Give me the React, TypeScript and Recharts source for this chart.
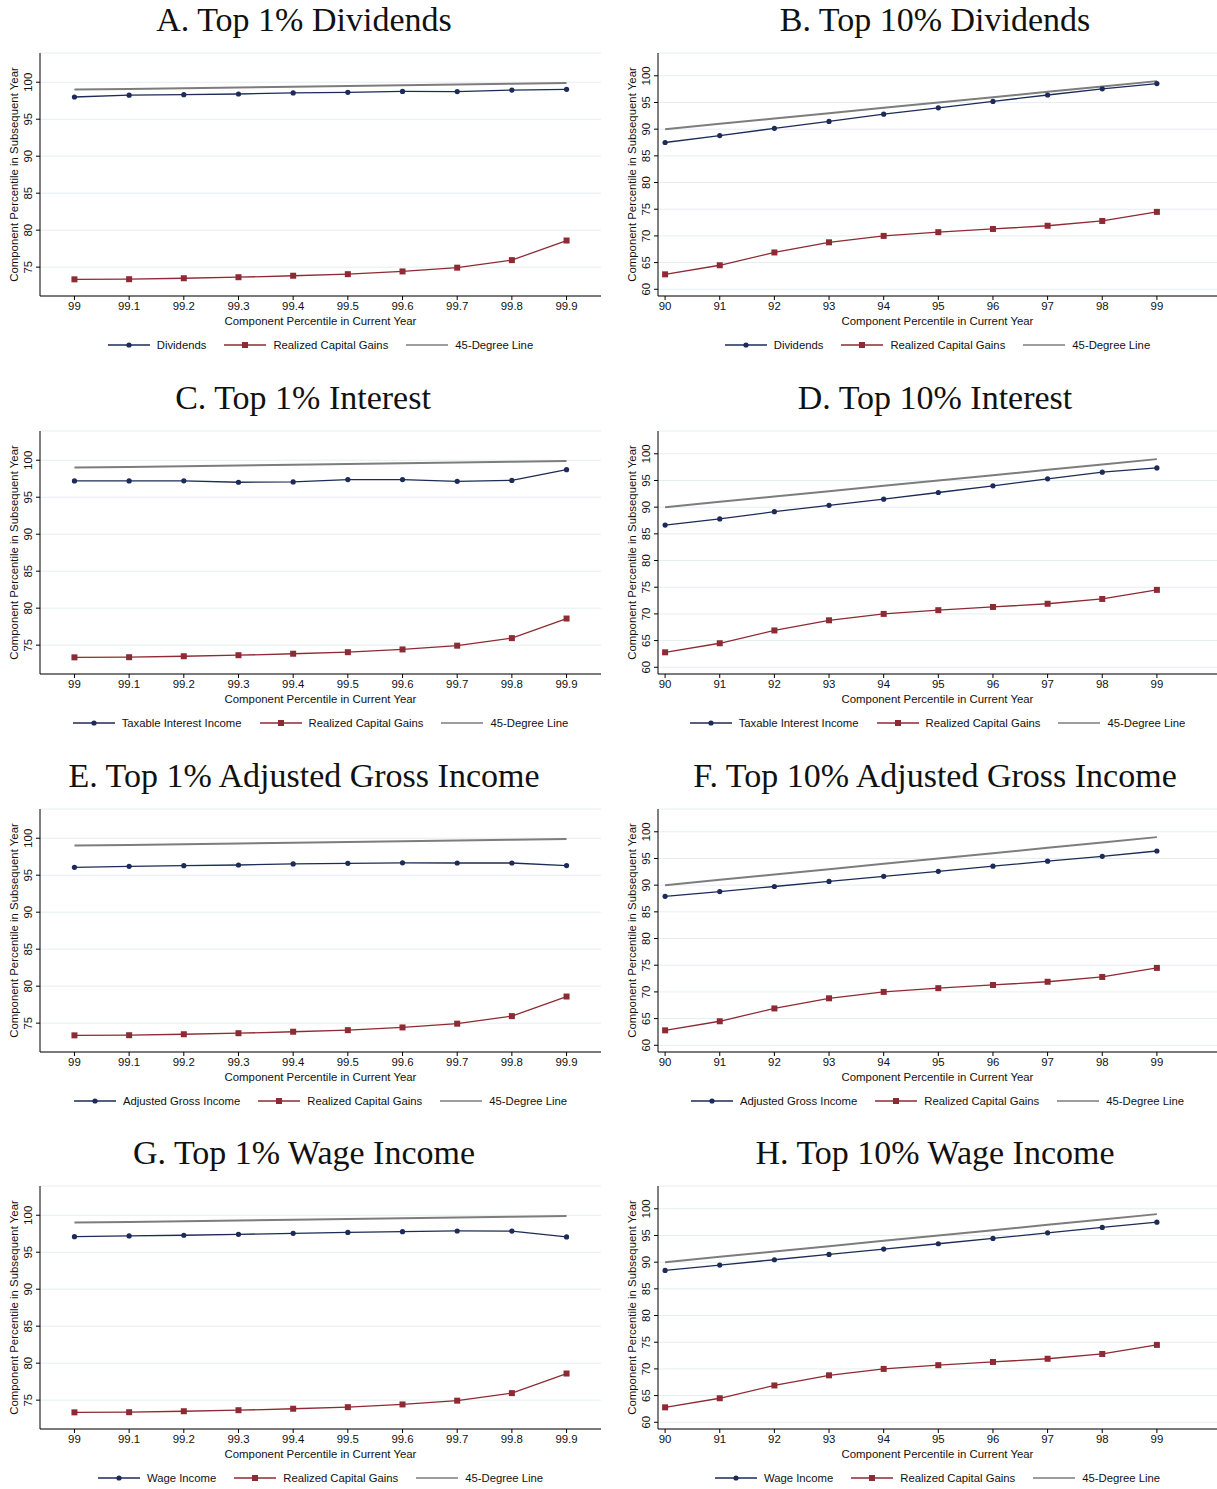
import React from "react";
import { LineChart, Line, XAxis, YAxis, CartesianGrid } from "recharts";

// x positions (component percentile in current year)
const top1X = [99, 99.1, 99.2, 99.3, 99.4, 99.5, 99.6, 99.7, 99.8, 99.9];
const top10X = [90, 91, 92, 93, 94, 95, 96, 97, 98, 99];

const top1YTicks = [75, 80, 85, 90, 95, 100];
const top10YTicks = [60, 65, 70, 75, 80, 85, 90, 95, 100];

// realized capital gains (same in every panel)
const gainsTop1 = [73.35, 73.37, 73.5, 73.64, 73.84, 74.05, 74.42, 74.93, 75.95, 78.6];
const gainsTop10 = [62.8, 64.5, 66.9, 68.8, 70.0, 70.7, 71.3, 71.9, 72.8, 74.5];

// component series
const dividendsTop1 = [98.0, 98.25, 98.32, 98.41, 98.55, 98.64, 98.76, 98.74, 98.94, 99.04];
const dividendsTop10 = [87.5, 88.8, 90.15, 91.45, 92.8, 94.0, 95.2, 96.4, 97.55, 98.55];
const interestTop1 = [97.2, 97.2, 97.22, 97.02, 97.06, 97.38, 97.38, 97.15, 97.27, 98.72];
const interestTop10 = [86.65, 87.8, 89.15, 90.35, 91.5, 92.75, 94.0, 95.3, 96.55, 97.35];
const agiTop1 = [96.07, 96.2, 96.29, 96.38, 96.52, 96.6, 96.68, 96.65, 96.65, 96.3];
const agiTop10 = [87.9, 88.8, 89.75, 90.7, 91.65, 92.6, 93.55, 94.5, 95.4, 96.4];
const wageTop1 = [97.1, 97.2, 97.29, 97.42, 97.55, 97.68, 97.78, 97.87, 97.85, 97.07];
const wageTop10 = [88.45, 89.45, 90.45, 91.45, 92.45, 93.45, 94.45, 95.5, 96.5, 97.5];

const NAVY = "#1c2b57";
const MAROON = "#8e2a33";
const GRAY = "#7d7d7d";
const GRID = "#e6eef0";
const SANS = "'Liberation Sans', Arial, sans-serif";
const SERIF = "'Liberation Serif', 'Times New Roman', serif";
const FS = 11.4;

type PanelProps = {
  left: number;
  top: number;
  title: string;
  titleCenter: number;
  name: string;
  values: number[];
  wide: boolean; // top 10% panels
};

const YTick = (props: any) => {
  const { x, y, payload } = props;
  const bx = x - 2;
  return (
    <text
      x={bx}
      y={y}
      transform={`rotate(-90 ${bx} ${y})`}
      textAnchor="middle"
      fontSize={FS}
      fontFamily={SANS}
      fill="#111"
    >
      {payload.value}
    </text>
  );
};

const SquareDot = (p: any) => (
  <rect key={`sq-${p.index}`} x={p.cx - 3} y={p.cy - 3} width={6} height={6} fill={MAROON} />
);

function LegendItem({ label, kind, last }: { label: string; kind: "circle" | "square" | "none"; last?: boolean }) {
  const color = kind === "circle" ? NAVY : kind === "square" ? MAROON : GRAY;
  return (
    <div style={{ display: "flex", alignItems: "center", marginRight: last ? 0 : 18 }}>
      <svg width={42} height={10} style={{ marginRight: 7 }}>
        <line x1={0} y1={5} x2={42} y2={5} stroke={color} strokeWidth={kind === "none" ? 1.6 : 1.3} />
        {kind === "circle" && <circle cx={21} cy={5} r={2.6} fill={NAVY} />}
        {kind === "square" && <rect x={18} y={2} width={6} height={6} fill={MAROON} />}
      </svg>
      <span>{label}</span>
    </div>
  );
}

function Panel({ left, top, title, titleCenter, name, values, wide }: PanelProps) {
  const xs = wide ? top10X : top1X;
  const gains = wide ? gainsTop10 : gainsTop1;
  const data = xs.map((x, i) => ({ x, main: values[i], gains: gains[i], deg: x }));
  const width = wide ? 609 : 608;
  const yWidth = wide ? 50 : 40;
  const marginRight = wide ? 0 : 7;
  const plotLeft = yWidth;
  const plotWidth = width - yWidth - marginRight;

  return (
    <div style={{ position: "absolute", left, top, width, height: 378 }}>
      <div
        style={{
          position: "absolute",
          left: titleCenter - left - 300,
          width: 600,
          top: 0,
          height: 40,
          lineHeight: "40px",
          textAlign: "center",
          fontFamily: SERIF,
          fontSize: 34,
          color: "#111",
        }}
      >
        {title}
      </div>
      <div style={{ position: "absolute", left: 0, top: 0 }}>
        <LineChart width={width} height={330} data={data} margin={{ top: 53, right: marginRight, left: 0, bottom: 0 }}>
          <CartesianGrid vertical={false} stroke={GRID} strokeWidth={1} />
          <XAxis
            type="number"
            dataKey="x"
            domain={wide ? [89.87, 100.1] : [98.937, 99.963]}
            ticks={xs}
            interval={0}
            allowDataOverflow
            tickFormatter={(v) => String(v)}
            tickSize={4}
            height={34}
            axisLine={{ stroke: "#000", strokeWidth: 1 }}
            tickLine={{ stroke: "#000" }}
            tick={{ fontSize: FS, fontFamily: SANS, fill: "#111" }}
            label={{
              value: "Component Percentile in Current Year",
              position: "insideBottom",
              offset: 5,
              style: { fontSize: FS, fontFamily: SANS, fill: "#111" },
            }}
          />
          <YAxis
            type="number"
            domain={wide ? [58.74, 104.27] : [71.1, 103.95]}
            ticks={wide ? top10YTicks : top1YTicks}
            interval={0}
            allowDataOverflow
            width={yWidth}
            tickSize={4}
            axisLine={{ stroke: "#000", strokeWidth: 1 }}
            tickLine={{ stroke: "#000" }}
            tick={<YTick />}
            label={{
              value: "Component Percentile in Subsequent Year",
              angle: -90,
              position: "insideLeft",
              offset: wide ? 24 : 14,
              style: { fontSize: FS, fontFamily: SANS, fill: "#111", textAnchor: "middle" },
            }}
          />
          <Line
            type="linear"
            dataKey="main"
            stroke={NAVY}
            strokeWidth={1.3}
            dot={{ r: 2.6, fill: NAVY, stroke: NAVY, strokeWidth: 0 }}
            isAnimationActive={false}
          />
          <Line
            type="linear"
            dataKey="gains"
            stroke={MAROON}
            strokeWidth={1.3}
            dot={SquareDot}
            isAnimationActive={false}
          />
          <Line type="linear" dataKey="deg" stroke={GRAY} strokeWidth={2} dot={false} isAnimationActive={false} />
        </LineChart>
      </div>
      <div
        style={{
          position: "absolute",
          left: plotLeft,
          width: plotWidth,
          top: 337,
          height: 16,
          display: "flex",
          justifyContent: "center",
          alignItems: "center",
          fontFamily: SANS,
          fontSize: 11.3,
          color: "#111",
        }}
      >
        <LegendItem label={name} kind="circle" />
        <LegendItem label="Realized Capital Gains" kind="square" />
        <LegendItem label="45-Degree Line" kind="none" last />
      </div>
    </div>
  );
}

export default function App() {
  const rows = [0, 378, 756, 1133];
  return (
    <div style={{ position: "absolute", left: 0, top: 0, width: 1217, height: 1489, background: "#fff" }}>
      <Panel left={0} top={rows[0]} title="A. Top 1% Dividends" titleCenter={304} name="Dividends" values={dividendsTop1} wide={false} />
      <Panel left={608} top={rows[0]} title="B. Top 10% Dividends" titleCenter={935} name="Dividends" values={dividendsTop10} wide />
      <Panel left={0} top={rows[1]} title="C. Top 1% Interest" titleCenter={303} name="Taxable Interest Income" values={interestTop1} wide={false} />
      <Panel left={608} top={rows[1]} title="D. Top 10% Interest" titleCenter={935} name="Taxable Interest Income" values={interestTop10} wide />
      <Panel left={0} top={rows[2]} title="E. Top 1% Adjusted Gross Income" titleCenter={304} name="Adjusted Gross Income" values={agiTop1} wide={false} />
      <Panel left={608} top={rows[2]} title="F. Top 10% Adjusted Gross Income" titleCenter={935} name="Adjusted Gross Income" values={agiTop10} wide />
      <Panel left={0} top={rows[3]} title="G. Top 1% Wage Income" titleCenter={304} name="Wage Income" values={wageTop1} wide={false} />
      <Panel left={608} top={rows[3]} title="H. Top 10% Wage Income" titleCenter={935} name="Wage Income" values={wageTop10} wide />
    </div>
  );
}
